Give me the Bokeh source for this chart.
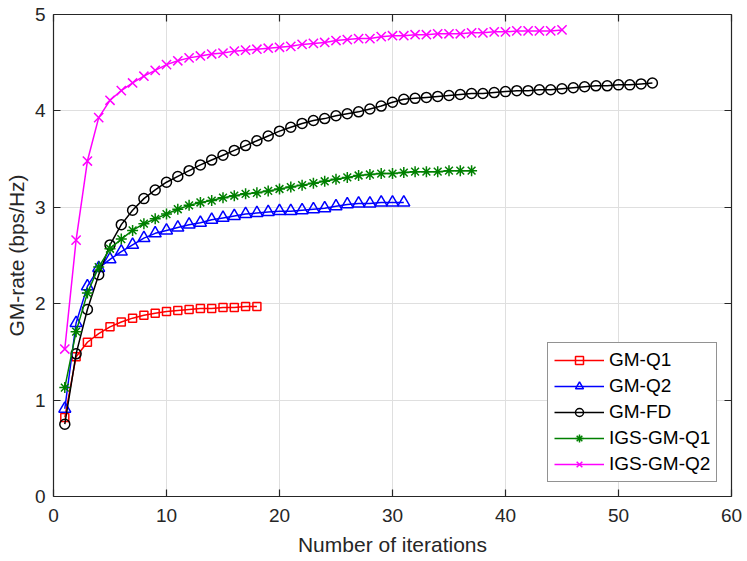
from bokeh.plotting import figure
from bokeh.models import (LinearAxis, Legend, LegendItem, FixedTicker, Range1d,
                          CustomLabelingPolicy)
from bokeh.embed import file_html
from bokeh.resources import INLINE

# ---- data ----
gm_q1 = [0.82, 1.45, 1.60, 1.69, 1.76, 1.81, 1.85, 1.88, 1.90, 1.92,
         1.93, 1.94, 1.95, 1.95, 1.96, 1.96, 1.97, 1.97]
gm_q2 = [0.91, 1.80, 2.18, 2.37, 2.46, 2.54, 2.61, 2.68, 2.73, 2.76,
         2.79, 2.82, 2.84, 2.87, 2.89, 2.91, 2.93, 2.94, 2.95, 2.96,
         2.96, 2.97, 2.98, 2.99, 3.01, 3.03, 3.04, 3.04, 3.05, 3.05, 3.05]
gm_fd = [0.75, 1.48, 1.94, 2.30, 2.61, 2.82, 2.97, 3.09, 3.18, 3.26,
         3.32, 3.38, 3.44, 3.49, 3.54, 3.59, 3.64, 3.69, 3.74, 3.79,
         3.83, 3.87, 3.90, 3.92, 3.95, 3.97, 3.99, 4.02, 4.05, 4.09,
         4.12, 4.13, 4.14, 4.15, 4.16, 4.17, 4.18, 4.18, 4.19, 4.20,
         4.21, 4.21, 4.22, 4.22, 4.23, 4.24, 4.25, 4.26, 4.26, 4.27,
         4.27, 4.28, 4.29]
igs_gm_q1 = [1.13, 1.71, 2.11, 2.38, 2.57, 2.67, 2.76, 2.83, 2.88, 2.93,
             2.98, 3.02, 3.05, 3.07, 3.10, 3.12, 3.14, 3.15, 3.17, 3.19,
             3.21, 3.23, 3.25, 3.27, 3.29, 3.31, 3.33, 3.34, 3.35, 3.35,
             3.36, 3.37, 3.37, 3.37, 3.38, 3.38, 3.38]
igs_gm_q2 = [1.53, 2.66, 3.48, 3.93, 4.11, 4.21, 4.29, 4.36, 4.42, 4.48,
             4.52, 4.55, 4.57, 4.59, 4.60, 4.62, 4.63, 4.64, 4.65, 4.66,
             4.67, 4.69, 4.70, 4.71, 4.73, 4.74, 4.75, 4.75, 4.77, 4.78,
             4.78, 4.79, 4.79, 4.80, 4.80, 4.80, 4.81, 4.81, 4.82, 4.82,
             4.83, 4.83, 4.83, 4.83, 4.84]

series_names = ["GM-Q1", "GM-Q2", "GM-FD", "IGS-GM-Q1", "IGS-GM-Q2"]
series_values = [gm_q1, gm_q2, gm_fd, igs_gm_q1, igs_gm_q2]
x_ticks = [0, 10, 20, 30, 40, 50, 60]
y_ticks = [0, 1, 2, 3, 4, 5]
x_label = "Number of iterations"
y_label = "GM-rate (bps/Hz)"

# ---- styles ----
colors = ["#ff0000", "#0000ff", "#000000", "#008000", "#ff00ff"]
markers = ["square", "triangle", "circle", "asterisk", "x"]
sizes = [8, 12, 10, 11, 13]
FONT = "Liberation Sans"
AX = "#262626"

p = figure(width=747, height=561, x_range=Range1d(0, 60), y_range=Range1d(0, 5),
           output_backend="svg", toolbar_location=None,
           min_border_left=53, min_border_right=16, min_border_top=14, min_border_bottom=65)
p.outline_line_color = None
p.background_fill_color = "white"

p.xaxis.ticker = FixedTicker(ticks=x_ticks)
p.yaxis.ticker = FixedTicker(ticks=y_ticks)
p.xaxis.axis_label = x_label
p.yaxis.axis_label = y_label

for ax in [p.xaxis[0], p.yaxis[0]]:
    ax.axis_line_color = AX
    ax.axis_line_width = 1.2
    ax.major_tick_line_color = AX
    ax.major_tick_line_width = 1.2
    ax.major_tick_in = 7
    ax.major_tick_out = 0
    ax.minor_tick_line_color = None
    ax.major_label_text_font = FONT
    ax.major_label_text_font_size = "19px"
    ax.major_label_text_color = AX
    ax.axis_label_text_font = FONT
    ax.axis_label_text_font_size = "21px"
    ax.axis_label_text_font_style = "normal"
    ax.axis_label_text_color = AX

p.xaxis.major_label_standoff = 12
p.xaxis.axis_label_standoff = 8
p.yaxis.major_label_standoff = 8
p.yaxis.axis_label_standoff = 4

# box ticks on top and right (no labels)
for loc, tk in [("above", x_ticks), ("right", y_ticks)]:
    a = LinearAxis(ticker=FixedTicker(ticks=tk),
                   major_label_policy=CustomLabelingPolicy(
                       code="for (const i of indices) indices.unset(i)"))
    a.axis_line_color = AX
    a.axis_line_width = 1.2
    a.major_tick_line_color = AX
    a.major_tick_line_width = 1.2
    a.major_tick_in = 7
    a.major_tick_out = 0
    a.minor_tick_line_color = None
    a.major_label_text_font_size = "2px"
    a.major_label_standoff = 0
    p.add_layout(a, loc)

p.grid.grid_line_color = "#dfdfdf"
p.grid.grid_line_width = 1

items = []
for name, vals, c, m, s in zip(series_names, series_values, colors, markers, sizes):
    xs = list(range(1, len(vals) + 1))
    rl = p.line(xs, vals, line_color=c, line_width=1.5)
    rm = p.scatter(xs, vals, marker=m, size=s, line_color=c, fill_color=None, line_width=1.5)
    items.append(LegendItem(label=name, renderers=[rl, rm]))

legend = Legend(items=items, location=(494, 14))
legend.label_text_font = FONT
legend.label_text_font_size = "19px"
legend.label_text_color = "#000000"
legend.border_line_color = AX
legend.border_line_width = 1.2
legend.padding = 6
legend.spacing = 4
legend.glyph_width = 50
legend.glyph_height = 20
legend.label_standoff = 5
legend.margin = 0
legend.background_fill_color = "white"
legend.background_fill_alpha = 1
p.add_layout(legend)

open("out.html", "w").write(file_html(p, INLINE))
